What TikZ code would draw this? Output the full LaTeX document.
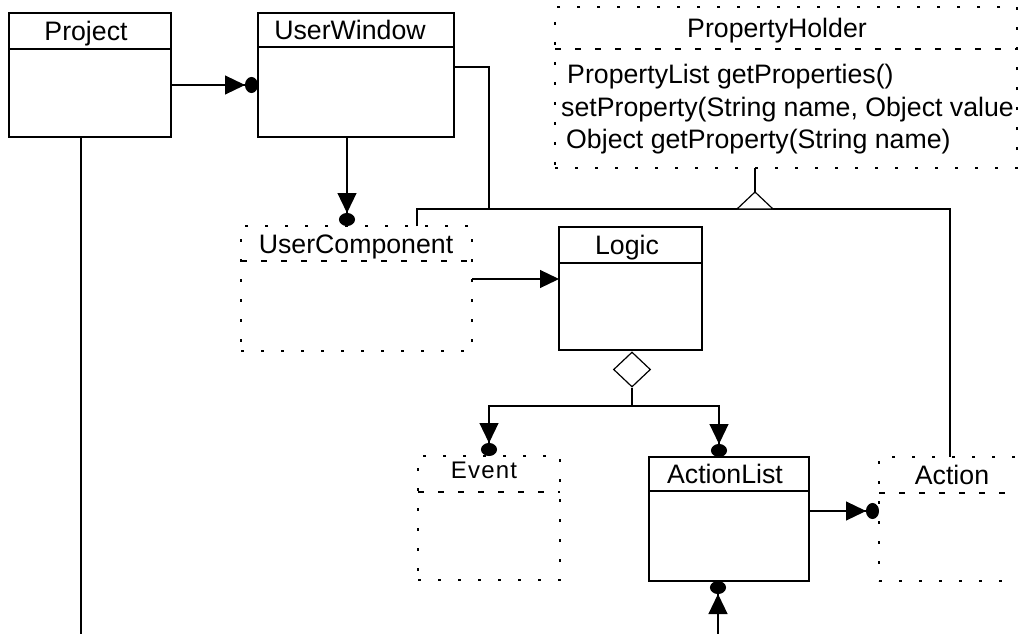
\documentclass[tikz,border=0pt]{standalone}
\usepackage{fontspec}
\setmainfont{Liberation Sans}
\usetikzlibrary{arrows.meta,shapes.geometric,calc}
\begin{document}
\begin{tikzpicture}[x=1pt,y=-1pt,
  solidbox/.style={draw,line width=1.2pt,inner sep=0pt,outer sep=0pt},
  dotbox/.style={draw,line width=2.4pt,dash pattern=on 2.6pt off 17.4pt,inner sep=0pt,outer sep=0pt},
  soliddiv/.style={line width=1.2pt},
  dashdiv/.style={line width=2.2pt,dash pattern=on 5.5pt off 14.5pt},
  conn/.style={line width=1.2pt},
  assoc/.style={conn,-{Triangle[length=20pt,width=19pt] Ellipse[length=13pt,width=16pt]}},
  navig/.style={conn,-{Triangle[length=19pt,width=18pt]}},
  hdr/.style={anchor=base,inner sep=0pt,font=\fontsize{26.7}{32}\selectfont},
  meth/.style={anchor=base west,inner sep=0pt,font=\fontsize{26.7}{32}\selectfont},
]
\useasboundingbox (0,0) rectangle (1018,634);
\fill[white] (0,0) rectangle (1018,634);
\clip (0,0) rectangle (1018,634);

% boxes
\node[solidbox,minimum width=162pt,minimum height=124pt] (project) at (90,75) {};
\node[solidbox,minimum width=196pt,minimum height=124pt] (userwindow) at (356,75) {};
\node[dotbox,minimum width=462pt,minimum height=161pt] (propholder) at (786,87.5) {};
\node[dotbox,minimum width=231pt,minimum height=125pt] (usercomp) at (356.5,288.5) {};
\node[solidbox,minimum width=143pt,minimum height=123pt] (logic) at (630.5,288.5) {};
\node[dotbox,minimum width=142pt,minimum height=124pt] (event) at (489,518) {};
\node[solidbox,minimum width=160pt,minimum height=124pt] (actionlist) at (729,519) {};
\node[dotbox,minimum width=146pt,minimum height=124pt] (action) at (952,519) {};

% dividers
\draw[soliddiv] ($(project.north west)+(0,36)$) -- ($(project.north east)+(0,36)$);
\draw[soliddiv] ($(userwindow.north west)+(0,34)$) -- ($(userwindow.north east)+(0,34)$);
\draw[dashdiv] ($(propholder.north west)+(0,42)$) -- ($(propholder.north east)+(0,42)$);
\draw[dashdiv] ($(usercomp.north west)+(0,35)$) -- ($(usercomp.north east)+(0,35)$);
\draw[soliddiv] ($(logic.north west)+(0,36)$) -- ($(logic.north east)+(0,36)$);
\draw[dashdiv] ($(event.north west)+(0,36)$) -- ($(event.north east)+(0,36)$);
\draw[soliddiv] ($(actionlist.north west)+(0,34)$) -- ($(actionlist.north east)+(0,34)$);
\draw[dashdiv] ($(action.north west)+(0,36)$) -- ($(action.north east)+(0,36)$);

% texts
\node[hdr] (tProject) at (86,40.6) {Project};
\node[hdr] (tUW) at (350,39.6) {UserWindow};
\node[hdr] (tPH) at (777,37.6) {PropertyHolder};
\node[hdr] (tUC) at (356,253) {UserComponent};
\node[hdr] (tLogic) at (627,254.6) {Logic};
\node[hdr,font=\fontsize{24}{28}\selectfont] (tEvent) at (484,478) {E\kern1.2pt v\kern1.2pt e\kern1.2pt n\kern1.2pt t};
\node[hdr] (tAL) at (725,483.6) {ActionList};
\node[hdr] (tAction) at (952,484.6) {Action};
\node[meth] (m1) at (567,84) {PropertyList getProperties()};
\node[meth] (m2) at (561,116) {setProperty(String name, Object value};
\node[meth] (m3) at (566,148) {Object getProperty(String name)};

% aggregation diamond
\node[draw,diamond,aspect=1,inner sep=0pt,minimum width=37pt,minimum height=35pt,line width=1.2pt,fill=white] (dia) at (632,369.5) {};

% helper coordinates
\coordinate (br) at (632,406);
\coordinate (jUC) at (417,209);
\coordinate (jUW) at (489,209);
\coordinate (jA) at (950,209);
\coordinate (inh) at (755,209);
\coordinate (inhtop) at (755,192);
\coordinate (pbot) at (81,634);
\coordinate (albot) at (718,634);
\coordinate (cUW) at (347,0);
\coordinate (cAL) at (719,0);
\coordinate (yUC) at (0,279);
\coordinate (yAL) at (0,511);
\coordinate (yP) at (0,85);
\coordinate (yUW) at (0,67);

% connectors
\draw[conn] (project.south -| pbot) -- (pbot);
\draw[assoc] (project.east |- yP) -- (userwindow.west |- yP);
\draw[assoc] (userwindow.south -| cUW) -- (usercomp.north -| cUW);
\draw[conn] (userwindow.east |- yUW) -| (jUW);
\draw[conn] (usercomp.north -| jUC) -- (jUC) -- (jA) -- (action.north -| jA);
\draw[conn] (propholder.south -| inh) -- (inhtop);
\draw[conn,fill=white] (inhtop) -- ++(18,17) -- ++(-36,0) -- cycle;
\draw[navig] (usercomp.east |- yUC) -- (logic.west |- yUC);
\draw[conn] (dia.south) -- (br);
\draw[assoc] (br) -| (event.north);
\draw[assoc] (br) -| (actionlist.north -| cAL);
\draw[assoc] (actionlist.east |- yAL) -- (action.west |- yAL);
\draw[assoc] (albot) -- (actionlist.south -| albot);
\end{tikzpicture}
\end{document}
